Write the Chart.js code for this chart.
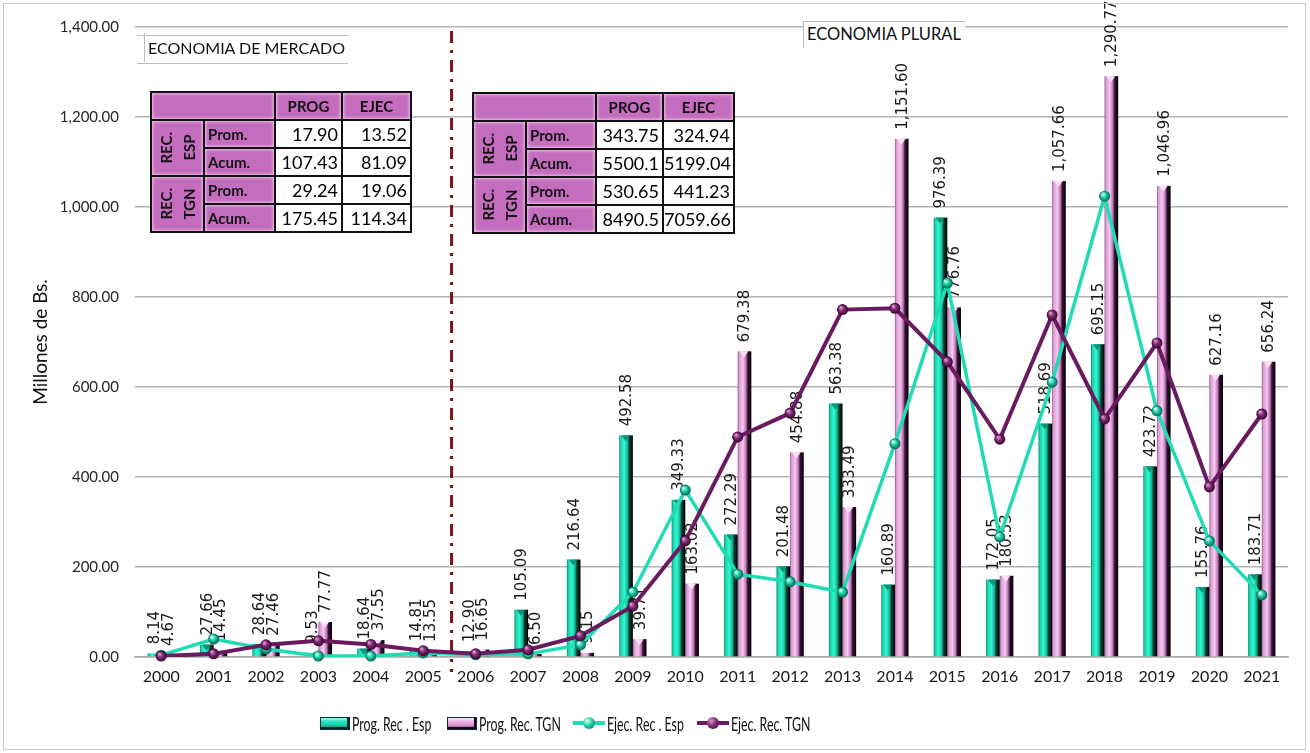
<!DOCTYPE html>
<html>
<head>
<meta charset="utf-8">
<script src="https://cdn.jsdelivr.net/npm/chart.js@4.4.1/dist/chart.umd.min.js"></script>
<style>
  html, body { margin: 0; padding: 0; background: #fff; }
  #wrap { position: relative; width: 1310px; height: 753px; overflow: hidden; }
  #chart { position: absolute; left: 0; top: 0; }
  #frame { position: absolute; left: 3px; top: 3px; width: 1303px; height: 747px; border: 1px solid #c9c9c9; box-sizing: border-box; pointer-events: none; }
  .zone { position: absolute; background: #fff; border-color: #bdbdbd; border-style: solid; border-width: 0; font-family: Lato, sans-serif; color: #111; white-space: nowrap; }
  table.sum { position: absolute; border-collapse: collapse; table-layout: fixed; font-family: Lato, sans-serif; }
  table.sum td { border: 2px solid #111; padding: 0; height: 26px; line-height: 26px; overflow: hidden; }
  table.sum td.p { background: #c46dbe; box-shadow: inset 0 0 3px 1px rgba(246, 200, 240, 0.85); font-weight: bold; font-size: 15px; color: #111; }
  table.sum td.h { text-align: center; }
  table.sum td.l { padding-left: 3px; }
  table.sum td.n { background: #fff; text-align: right; padding-right: 3px; font-size: 18px; }
  table.sum td.v div { writing-mode: vertical-rl; transform: rotate(180deg); line-height: 23px; text-align: center; margin: 0 auto; }
  .leg { position: absolute; top: 712px; height: 22px; display: flex; align-items: center; font-family: Lato, sans-serif; font-size: 19px; color: #111; white-space: nowrap; }
  .leg .t { display: inline-block; transform: scaleX(0.65); transform-origin: left center; margin-left: 2px; }
  .ico-bar { width: 28px; height: 11px; border: 1px solid #033; box-sizing: content-box; }
  .ico-bar.teal { background: linear-gradient(to bottom, #a4fbe9 0%, #2ee8c4 28%, #16cfa8 65%, #06735c 100%); box-shadow: inset -2px -2px 0 #022; }
  .ico-bar.pink { background: linear-gradient(to bottom, #fde6fa 0%, #eeb4e7 30%, #d696cf 65%, #733068 100%); box-shadow: inset -2px -2px 0 #201; }
  .ico-line { width: 32px; height: 4px; position: relative; }
  .ico-line i { position: absolute; left: 10px; top: -4px; width: 12px; height: 12px; border-radius: 50%; }
</style>
</head>
<body>
<div id="wrap">
  <canvas id="chart" width="1310" height="753"></canvas>
  <div class="zone" style="left:137px;top:35px;width:211px;height:27px;border-top-width:1px;border-bottom-width:1px;"></div>
  <div class="zone" style="left:144px;top:33px;width:204px;height:29px;border-left-width:1px;background:transparent;font-size:16px;line-height:30px;padding-left:3px;box-sizing:border-box;">ECONOMIA DE MERCADO</div>
  <div class="zone" style="left:803px;top:21px;width:162px;height:27px;border-top-width:1px;border-left-width:1px;font-size:16.5px;line-height:25px;padding-left:3px;box-sizing:border-box;">ECONOMIA PLURAL</div>
  <div id="frame"></div>
</div>
<script>
// --- data ---
const years = ['2000', '2001', '2002', '2003', '2004', '2005', '2006', '2007', '2008', '2009', '2010',
  '2011', '2012', '2013', '2014', '2015', '2016', '2017', '2018', '2019', '2020', '2021'];

const progEsp = [8.14, 27.66, 28.64, 9.53, 18.64, 14.81, 12.90, 105.09, 216.64, 492.58, 349.33,
  272.29, 201.48, 563.38, 160.89, 976.39, 172.05, 518.69, 695.15, 423.72, 155.76, 183.71];
const progTgn = [4.67, 14.45, 27.46, 77.77, 37.55, 13.55, 16.65, 6.50, 9.15, 39.71, 163.02,
  679.38, 454.88, 333.49, 1151.60, 776.76, 180.53, 1057.66, 1290.77, 1046.96, 627.16, 656.24];
// executed values (no labels in the picture)
const ejecEsp = [4, 40, 18, 2, 2, 9, 5, 7, 27, 144, 371, 184, 167, 144, 474, 831, 267, 611, 1024, 547, 258, 138];
const ejecTgn = [2, 7, 27, 36, 28, 14, 7, 16, 47, 113, 258, 489, 542, 772, 775, 656, 484, 760, 529, 698, 378, 540];

const seriesNames = ['Prog. Rec . Esp', 'Prog. Rec. TGN', 'Ejec. Rec . Esp', 'Ejec. Rec. TGN'];
const yTicks = [0, 200, 400, 600, 800, 1000, 1200, 1400];

// summary tables
const rowGroups = ['REC. ESP', 'REC. TGN'];
const rowLabels = ['Prom.', 'Acum.', 'Prom.', 'Acum.'];
const mercadoProg = ['17.90', '107.43', '29.24', '175.45'];
const mercadoEjec = ['13.52', '81.09', '19.06', '114.34'];
const pluralProg = ['343.75', '5500.1', '530.65', '8490.5'];
const pluralEjec = ['324.94', '5199.04', '441.23', '7059.66'];

const fmt = v => Number(v).toLocaleString('en-US', { minimumFractionDigits: 2, maximumFractionDigits: 2 });

const barLook = [
  { stops: [[0, '#0a7d64'], [0.1, '#17d3ab'], [0.38, '#33f7d2'], [0.6, '#14b793'], [0.74, '#043d30'], [1, '#000']], tri: '#0b9277' },
  { stops: [[0, '#93508c'], [0.1, '#d99bd2'], [0.38, '#f7c9f1'], [0.6, '#bb7ab3'], [0.74, '#3b1037'], [1, '#000']], tri: '#fbe3f7' }
];
const dotLook = [
  { hi: '#d2fff4', mid: '#1fcfa8', dark: '#05604c' },
  { hi: '#d99ad0', mid: '#7e2a72', dark: '#360530' }
];

function sphere(ctx, x, y, r, c) {
  const g = ctx.createRadialGradient(x - r * 0.35, y - r * 0.4, r * 0.1, x, y, r);
  g.addColorStop(0, c.hi);
  g.addColorStop(0.45, c.mid);
  g.addColorStop(1, c.dark);
  ctx.fillStyle = g;
  ctx.beginPath();
  ctx.arc(x, y, r, 0, Math.PI * 2);
  ctx.fill();
}

function drawBarLabels(chart) {
  const { ctx } = chart;
  ctx.save();
  ctx.font = '15px "DejaVu Sans"';
  ctx.fillStyle = '#1a1a1a';
  ctx.textAlign = 'left';
  ctx.textBaseline = 'middle';
  [0, 1].forEach(di => {
    chart.getDatasetMeta(di).data.forEach((el, i) => {
      ctx.save();
      ctx.translate(el.x + 1, el.y - 9);
      ctx.rotate(-Math.PI / 2);
      ctx.fillText(fmt(chart.data.datasets[di].data[i]), 0, 0);
      ctx.restore();
    });
  });
  ctx.restore();
}

const decor = {
  id: 'decor',
  beforeDatasetsDraw(chart) {
    // separator between the two periods
    const { ctx, scales: { x } } = chart;
    const px = x.getPixelForValue(5.54);
    ctx.save();
    ctx.strokeStyle = '#7a1414';
    ctx.lineWidth = 3;
    ctx.setLineDash([12, 7, 3, 7]);
    ctx.beginPath();
    ctx.moveTo(px, 31);
    ctx.lineTo(px, 672);
    ctx.stroke();
    ctx.restore();
  },
  beforeDatasetDraw(chart, args) {
    // labels go after all bars but under the lines
    if (args.index === 2) drawBarLabels(chart);
  },
  afterDatasetDraw(chart, args) {
    const { ctx } = chart;
    const meta = args.meta;
    if (meta.type === 'bar') {
      const look = barLook[args.index];
      ctx.save();
      meta.data.forEach(el => {
        const { x, y, base, width } = el.getProps(['x', 'y', 'base', 'width'], true);
        const left = x - width / 2;
        const g = ctx.createLinearGradient(left, 0, left + width, 0);
        look.stops.forEach(s => g.addColorStop(s[0], s[1]));
        ctx.fillStyle = g;
        ctx.fillRect(left, y, width, base - y);
        if (base - y > 6) {
          ctx.fillStyle = look.tri;
          ctx.beginPath();
          ctx.moveTo(left + 2, y);
          ctx.lineTo(left + width - 3, y);
          ctx.lineTo(x - 0.5, y + 6);
          ctx.closePath();
          ctx.fill();
        }
      });
      ctx.restore();
    } else if (meta.type === 'line') {
      const look = dotLook[args.index - 2];
      ctx.save();
      meta.data.forEach(pt => sphere(ctx, pt.x, pt.y, 5.5, look));
      ctx.restore();
    }
  }
};

const chart = new Chart(document.getElementById('chart'), {
  type: 'bar',
  data: {
    labels: years,
    datasets: [
      { type: 'bar', label: seriesNames[0], data: progEsp, backgroundColor: 'rgba(0,0,0,0)', borderWidth: 0,
        categoryPercentage: 0.52, barPercentage: 1, order: 3 },
      { type: 'bar', label: seriesNames[1], data: progTgn, backgroundColor: 'rgba(0,0,0,0)', borderWidth: 0,
        categoryPercentage: 0.52, barPercentage: 1, order: 4 },
      { type: 'line', label: seriesNames[2], data: ejecEsp, borderColor: '#1fdcb4', borderWidth: 3.5,
        pointRadius: 0, tension: 0, order: 2 },
      { type: 'line', label: seriesNames[3], data: ejecTgn, borderColor: '#6a1a5e', borderWidth: 4,
        pointRadius: 0, tension: 0, order: 1 }
    ]
  },
  options: {
    responsive: false,
    animation: false,
    events: [],
    layout: { padding: { top: 27, right: 22, bottom: 56, left: 0 } },
    plugins: { legend: { display: false }, tooltip: { enabled: false } },
    scales: {
      x: {
        grid: { display: false, drawTicks: false },
        border: { display: true, color: '#a9a9a9', width: 1.5 },
        ticks: { font: { family: 'Lato', size: 16 }, color: '#1a1a1a', padding: 10, maxRotation: 0, autoSkip: false },
        afterFit(s) { s.height = 40; }
      },
      y: {
        min: 0,
        max: 1400,
        afterBuildTicks(s) { s.ticks = yTicks.map(v => ({ value: v })); },
        ticks: { callback: v => fmt(v), font: { family: 'Lato', size: 15 }, color: '#262626', padding: 16 },
        grid: { color: '#b3b3b3', lineWidth: 1.5, drawTicks: false },
        border: { display: false },
        title: { display: true, text: 'Millones de Bs.', font: { family: 'Lato', size: 19 }, color: '#111', padding: { top: 29, bottom: 0 } },
        afterFit(s) { s.width = 135; }
      }
    }
  },
  plugins: [decor]
});

// --- summary tables ---
function buildTable(left, top, widths, prog, ejec) {
  const t = document.createElement('table');
  t.className = 'sum';
  t.style.left = left + 'px';
  t.style.top = top + 'px';
  t.style.width = widths.reduce((a, b) => a + b, 0) + 'px';
  let html = '<colgroup>' + widths.map(w => `<col style="width:${w}px">`).join('') + '</colgroup>';
  html += '<tr><td class="p" colspan="2"></td><td class="p h">PROG</td><td class="p h">EJEC</td></tr>';
  rowLabels.forEach((lab, i) => {
    html += '<tr>';
    if (i % 2 === 0) {
      const g = rowGroups[i / 2].split(' ');
      html += `<td class="p v" rowspan="2"><div>${g[0]}<br>${g[1]}</div></td>`;
    }
    html += `<td class="p l">${lab}</td><td class="n">${prog[i]}</td><td class="n">${ejec[i]}</td></tr>`;
  });
  t.innerHTML = html;
  document.getElementById('wrap').insertBefore(t, document.getElementById('frame'));
}
buildTable(150, 91, [53, 71, 67, 69], mercadoProg, mercadoEjec);
buildTable(472, 92, [53, 70, 67, 71], pluralProg, pluralEjec);

// --- legend ---
const legendLeft = [320, 447, 573, 697];
chart.data.datasets.forEach((ds, i) => {
  const item = document.createElement('div');
  item.className = 'leg';
  item.style.left = legendLeft[i] + 'px';
  let ico;
  if (ds.type === 'bar') {
    ico = `<span class="ico-bar ${i === 0 ? 'teal' : 'pink'}"></span>`;
  } else {
    const c = dotLook[i - 2];
    ico = `<span class="ico-line" style="background:${ds.borderColor}"><i style="background:radial-gradient(circle at 35% 32%, ${c.hi} 0%, ${c.mid} 45%, ${c.dark} 100%)"></i></span>`;
  }
  item.innerHTML = ico + `<span class="t">${ds.label}</span>`;
  document.getElementById('wrap').appendChild(item);
});
</script>
</body>
</html>
